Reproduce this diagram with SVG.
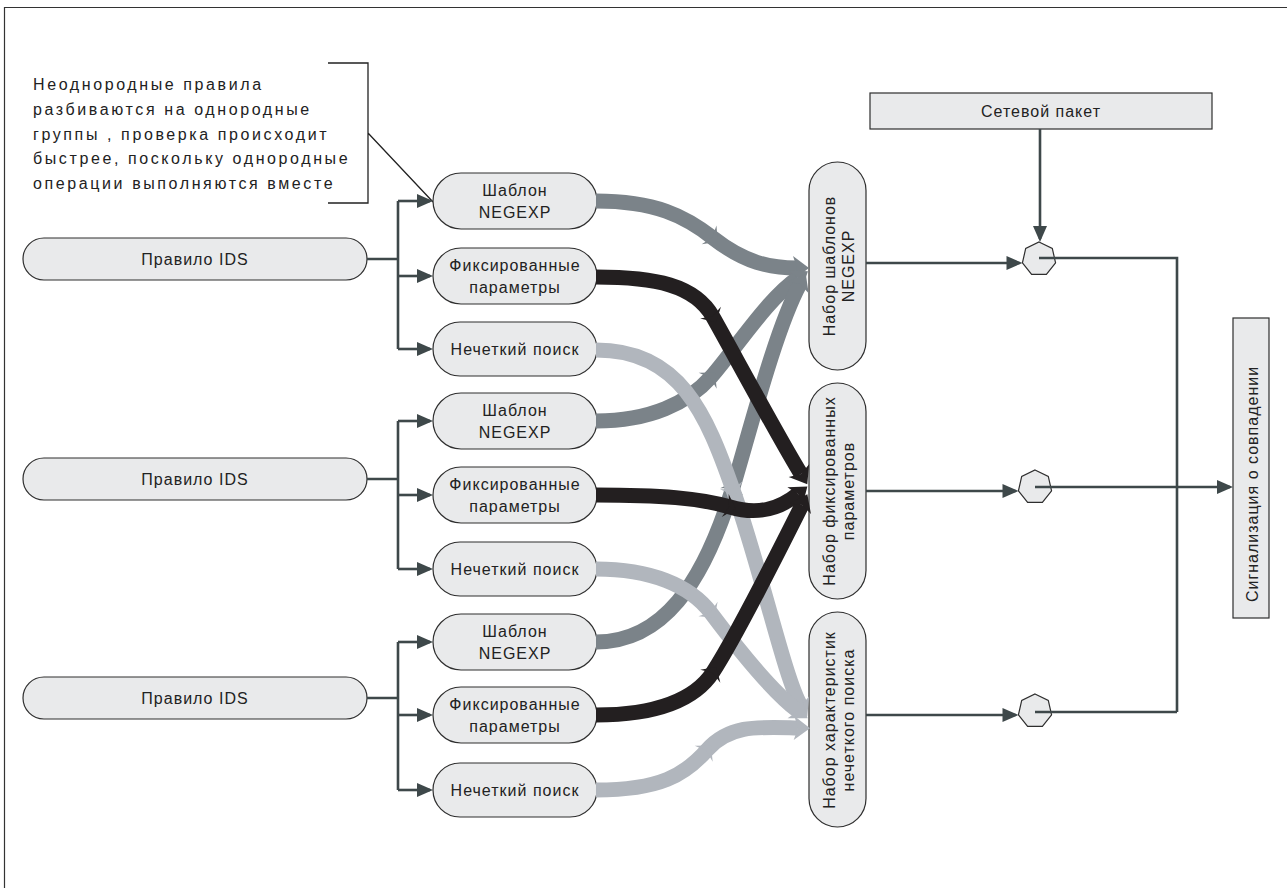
<svg xmlns="http://www.w3.org/2000/svg" width="1287" height="888" viewBox="0 0 1287 888">
<style>
.box{fill:#e9eaeb;stroke:#2e2e2e;stroke-width:1.2}
.t{font-family:"Liberation Sans",Arial,sans-serif;font-size:16px;letter-spacing:1px;fill:#222;text-anchor:middle}
.co{font-family:"Liberation Sans",Arial,sans-serif;font-size:16px;letter-spacing:2.6px;fill:#222}
.thin{fill:none;stroke:#3e484a;stroke-width:2.6}
.arr{marker-end:url(#ah)}
.band{fill:none;stroke-width:15}
.neg{stroke:#7b8389;marker-mid:url(#mN);marker-end:url(#eN)}
.fix{stroke:#231f20;marker-mid:url(#mB);marker-end:url(#eB)}
.fuz{stroke:#b1b6bd;marker-mid:url(#mL);marker-end:url(#eL)}
.frame{fill:none;stroke:#333;stroke-width:1.2}
</style>
<defs>
<marker id="ah" markerUnits="userSpaceOnUse" viewBox="-14 -8 18 16" markerWidth="18" markerHeight="16" refX="0" refY="0" orient="auto"><path d="M-13,-7 L3,0 L-13,7 Z" fill="#3e484a"/></marker>
<marker id="eN" markerUnits="userSpaceOnUse" viewBox="-6 -14 20 28" markerWidth="20" markerHeight="28" refX="0" refY="0" orient="auto"><path d="M12,0 L-4,-12 L0,0 L-4,12 Z" fill="#7b8389"/></marker>
<marker id="eB" markerUnits="userSpaceOnUse" viewBox="-6 -14 20 28" markerWidth="20" markerHeight="28" refX="0" refY="0" orient="auto"><path d="M12,0 L-4,-12 L0,0 L-4,12 Z" fill="#231f20"/></marker>
<marker id="eL" markerUnits="userSpaceOnUse" viewBox="-6 -14 20 28" markerWidth="20" markerHeight="28" refX="0" refY="0" orient="auto"><path d="M12,0 L-4,-12 L0,0 L-4,12 Z" fill="#b1b6bd"/></marker>
<marker id="mN" markerUnits="userSpaceOnUse" viewBox="-6 -13 13 26" markerWidth="13" markerHeight="26" refX="0" refY="0" orient="auto"><path d="M6,0 L-5,-12 L-1,0 L-5,12 Z" fill="#7b8389"/></marker>
<marker id="mB" markerUnits="userSpaceOnUse" viewBox="-6 -13 13 26" markerWidth="13" markerHeight="26" refX="0" refY="0" orient="auto"><path d="M6,0 L-5,-12 L-1,0 L-5,12 Z" fill="#231f20"/></marker>
<marker id="mL" markerUnits="userSpaceOnUse" viewBox="-6 -13 13 26" markerWidth="13" markerHeight="26" refX="0" refY="0" orient="auto"><path d="M6,0 L-5,-12 L-1,0 L-5,12 Z" fill="#b1b6bd"/></marker>
</defs>

<path class="frame" d="M4.5,888 V7.5 H1287"/>

<g id="callout">
<text class="co" x="33" y="90">Неоднородные правила</text>
<text class="co" x="33" y="114.75">разбиваются на однородные</text>
<text class="co" x="33" y="139.5">группы , проверка происходит</text>
<text class="co" x="33" y="164.25">быстрее, поскольку однородные</text>
<text class="co" x="33" y="189">операции выполняются вместе</text>
<path d="M328,63 H368 V203 H328 M368,133 L433,202" fill="none" stroke="#222" stroke-width="1.3"/>
</g>

<g id="rule1"><rect class="box" x="23" y="238" width="344" height="42" rx="21"/><text class="t" x="195" y="265">Правило IDS</text></g>
<g id="rule2"><rect class="box" x="23" y="458" width="344" height="42" rx="21"/><text class="t" x="195" y="485">Правило IDS</text></g>
<g id="rule3"><rect class="box" x="23" y="677" width="344" height="42" rx="21"/><text class="t" x="195" y="704">Правило IDS</text></g>

<g id="neg1"><rect class="box" x="433" y="173" width="164" height="56" rx="28"/><text class="t" x="515" y="196">Шаблон</text><text class="t" x="515" y="218">NEGEXP</text></g>
<g id="fix1"><rect class="box" x="433" y="248" width="164" height="56" rx="28"/><text class="t" x="515" y="271">Фиксированные</text><text class="t" x="515" y="293">параметры</text></g>
<g id="fuz1"><rect class="box" x="433" y="322" width="164" height="54" rx="27"/><text class="t" x="515" y="355">Нечеткий поиск</text></g>

<g id="neg2"><rect class="box" x="433" y="393" width="164" height="56" rx="28"/><text class="t" x="515" y="416">Шаблон</text><text class="t" x="515" y="438">NEGEXP</text></g>
<g id="fix2"><rect class="box" x="433" y="467" width="164" height="56" rx="28"/><text class="t" x="515" y="490">Фиксированные</text><text class="t" x="515" y="512">параметры</text></g>
<g id="fuz2"><rect class="box" x="433" y="542" width="164" height="54" rx="27"/><text class="t" x="515" y="575">Нечеткий поиск</text></g>

<g id="neg3"><rect class="box" x="433" y="614" width="164" height="56" rx="28"/><text class="t" x="515" y="637">Шаблон</text><text class="t" x="515" y="659">NEGEXP</text></g>
<g id="fix3"><rect class="box" x="433" y="687" width="164" height="56" rx="28"/><text class="t" x="515" y="710">Фиксированные</text><text class="t" x="515" y="732">параметры</text></g>
<g id="fuz3"><rect class="box" x="433" y="763" width="164" height="54" rx="27"/><text class="t" x="515" y="796">Нечеткий поиск</text></g>

<g id="setNeg"><rect class="box" x="809" y="162" width="57" height="208" rx="28.5"/><g transform="translate(837.5,266) rotate(-90)"><text class="t" x="0" y="-3">Набор шаблонов</text><text class="t" x="0" y="16">NEGEXP</text></g></g>
<g id="setFix"><rect class="box" x="809" y="383" width="57" height="216" rx="28.5"/><g transform="translate(837.5,491) rotate(-90)"><text class="t" x="0" y="-3">Набор фиксированных</text><text class="t" x="0" y="16">параметров</text></g></g>
<g id="setFuz"><rect class="box" x="809" y="612" width="57" height="215" rx="28.5"/><g transform="translate(837.5,720) rotate(-90)"><text class="t" x="0" y="-3">Набор характеристик</text><text class="t" x="0" y="16">нечеткого поиска</text></g></g>

<g id="packet"><rect class="box" x="870" y="93" width="342" height="36"/><text class="t" x="1041" y="117">Сетевой пакет</text></g>

<g id="and1"><polygon class="box" points="1039,242 1052.29,248.4 1055.57,262.78 1046.38,274.32 1031.62,274.32 1022.43,262.78 1025.71,248.4"/></g>
<g id="and2"><polygon class="box" points="1035,470 1048.29,476.4 1051.57,490.78 1042.38,502.32 1027.62,502.32 1018.43,490.78 1021.71,476.4"/></g>
<g id="and3"><polygon class="box" points="1035,694 1048.29,700.4 1051.57,714.78 1042.38,726.32 1027.62,726.32 1018.43,714.78 1021.71,700.4"/></g>

<g id="alert"><rect class="box" x="1233" y="318" width="36" height="300"/><g transform="translate(1251.5,484) rotate(-90)"><text class="t" x="0" y="6">Сигнализация о совпадении</text></g></g>

<g id="connectors">
<path class="thin" d="M367,259 H398 M398,201 V349"/>
<path class="thin arr" d="M398,201 H430"/>
<path class="thin arr" d="M398,276 H430"/>
<path class="thin arr" d="M398,349 H430"/>
<path class="thin" d="M367,479 H398 M398,421 V569"/>
<path class="thin arr" d="M398,421 H430"/>
<path class="thin arr" d="M398,495 H430"/>
<path class="thin arr" d="M398,569 H430"/>
<path class="thin" d="M367,698 H398 M398,642 V790"/>
<path class="thin arr" d="M398,642 H430"/>
<path class="thin arr" d="M398,715 H430"/>
<path class="thin arr" d="M398,790 H430"/>

<path class="band neg" d="M596,201 C655,201 685,216 713,238 C745,263 770,268 797,268"/>
<path class="band neg" d="M596,421 C650,421 688,403 711,377 C734,351 768,298 798,278"/>
<path class="band neg" d="M596,642 C662,642 703,585 733,487 C748,438 775,330 800,284"/>

<path class="band fuz" d="M596,350 C680,350 706.6,414.5 733,490 C760,565 785,680 801,706"/>
<path class="band fuz" d="M596,569 C650,569 690,585 711,613 C735,645 770,690 798,711"/>
<path class="band fuz" d="M596,790 C660,790 685,775 707,750 C730,724 760,727 798,728"/>

<path class="band fix" d="M596,277 C655,277 695,285 713,317 C730,347 780,440 801,474"/>
<path class="band fix" d="M596,495 C660,495 700,498 730,507 C757,515 778,510 798,494"/>
<path class="band fix" d="M596,715 C655,715 695,700 713,672 C735,638 782,545 802,505"/>

<path class="thin arr" d="M866,263 H1019.5"/>
<path class="thin arr" d="M866,491 H1015.5"/>
<path class="thin arr" d="M866,715 H1015.5"/>
<path class="thin arr" d="M1040,129 V239"/>
<path class="thin" d="M1039,258 H1177 V712 M1035,712 H1177"/>
<path class="thin arr" d="M1035,487 H1230"/>
</g>
</svg>
